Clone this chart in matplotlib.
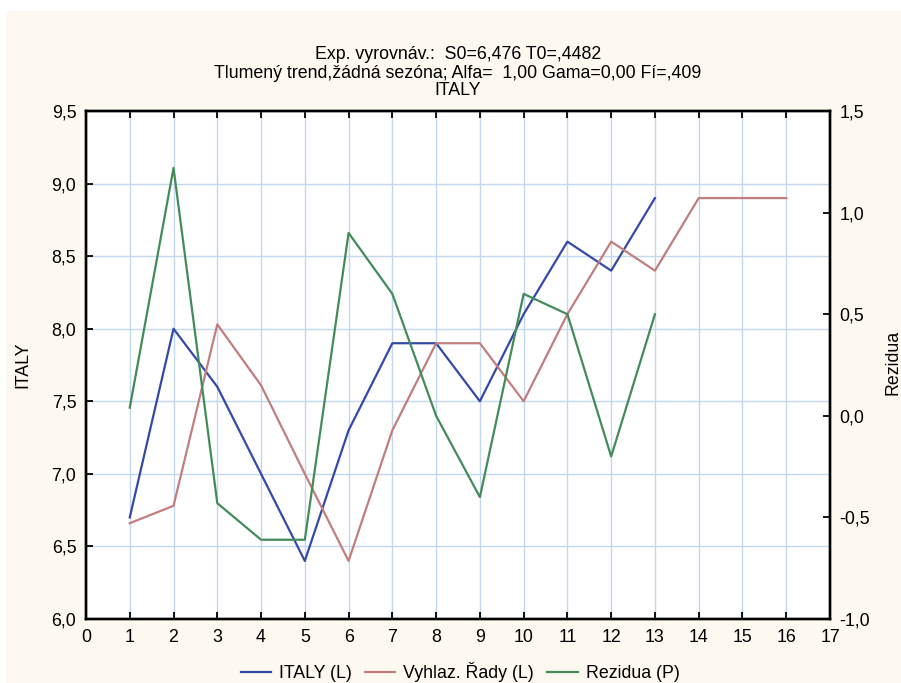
import matplotlib
matplotlib.use("Agg")
import matplotlib.pyplot as plt
from matplotlib.patches import Rectangle
from matplotlib.ticker import FuncFormatter
from matplotlib.lines import Line2D

plt.rcParams['font.family'] = ['Liberation Sans', 'DejaVu Sans']

# Series values
periods_obs = list(range(1, 14))
periods_fc = list(range(1, 17))
italy = [6.7, 8.0, 7.6, 7.0, 6.4, 7.3, 7.9, 7.9, 7.5, 8.1, 8.6, 8.4, 8.9]
smoothed = [6.66, 6.78, 8.03, 7.61, 7.0, 6.4, 7.3, 7.9, 7.9, 7.5, 8.1, 8.6, 8.4,
            8.9, 8.9, 8.9]
residuals = [0.04, 1.22, -0.43, -0.61, -0.61, 0.9, 0.6, 0.0, -0.4, 0.6, 0.5, -0.2, 0.5]

x_ticks = list(range(0, 18))
left_ticks = [6.0, 6.5, 7.0, 7.5, 8.0, 8.5, 9.0, 9.5]
right_ticks = [-1.0, -0.5, 0.0, 0.5, 1.0, 1.5]

title_lines = [
    "Exp. vyrovnáv.:  S0=6,476 T0=,4482",
    "Tlumený trend,žádná sezóna; Alfa=  1,00 Gama=0,00 Fí=,409",
    "ITALY",
]
legend_labels = ["ITALY (L)", "Vyhlaz. Řady (L)", "Rezidua (P)"]

c_blue = "#3549a8"
c_red = "#c27e7e"
c_green = "#438c5a"
c_grid = "#c2d8ef"
c_bg = "#fdf8f0"
FS = 12.8

W, H = 901, 683
fig = plt.figure(figsize=(W / 100, H / 100), dpi=100, facecolor="white")
fig.add_artist(Rectangle((6 / W, 0), 1, (H - 11) / H, transform=fig.transFigure,
                         facecolor=c_bg, edgecolor="none", zorder=-5))

ax = fig.add_axes([86 / W, (H - 619) / H, (830 - 86) / W, (619 - 111) / H])
ax.set_facecolor("white")
ax2 = ax.twinx()

comma = FuncFormatter(lambda v, p: f"{v:.1f}".replace(".", ","))
intfmt = FuncFormatter(lambda v, p: f"{int(round(v))}")

ax.plot(periods_obs, italy, color=c_blue, lw=1.6, zorder=3)
ax.plot(periods_fc, smoothed, color=c_red, lw=1.6, zorder=3)
ax2.plot(periods_obs, residuals, color=c_green, lw=1.6, zorder=3)

ax.set_xlim(0, 17)
ax.set_ylim(6.0, 9.5)
ax2.set_ylim(-1.0, 1.5)
ax.set_xticks(x_ticks)
ax.xaxis.set_major_formatter(intfmt)
ax.set_yticks(left_ticks)
ax.yaxis.set_major_formatter(comma)
ax2.set_yticks(right_ticks)
ax2.yaxis.set_major_formatter(comma)

ax.grid(True, color=c_grid, lw=1.0, zorder=0)
ax.set_axisbelow(True)

ax.tick_params(axis="x", direction="in", length=5, width=1.3, top=True,
               labelsize=FS, pad=7, colors="black")
ax.tick_params(axis="y", direction="in", length=5, width=1.3, labelsize=FS, pad=7)
ax2.tick_params(axis="y", direction="in", length=5, width=1.3, labelsize=FS, pad=7)

for a in (ax, ax2):
    for s in a.spines.values():
        s.set_linewidth(1.7)
        s.set_color("black")

fig.text(23 / W, 1 - 365 / H, "ITALY", rotation=90, ha="center", va="center",
         fontsize=FS)
fig.text(893 / W, 1 - 362 / H, "Rezidua", rotation=90, ha="center", va="center",
         fontsize=FS)

for yy, line in zip([59, 78, 95], title_lines):
    fig.text(0.5 * (86 + 830) / W, 1 - yy / H, line, ha="center", va="baseline",
             fontsize=FS)

handles = [Line2D([], [], color=c, lw=1.6) for c in (c_blue, c_red, c_green)]
fig.legend(handles, legend_labels, loc="center", bbox_to_anchor=(460 / W, 1 - 672 / H),
           ncol=3, frameon=False, fontsize=FS, handlelength=1.7, handletextpad=0.45,
           columnspacing=0.75)

fig.savefig("out.png", dpi=100, facecolor="white")
